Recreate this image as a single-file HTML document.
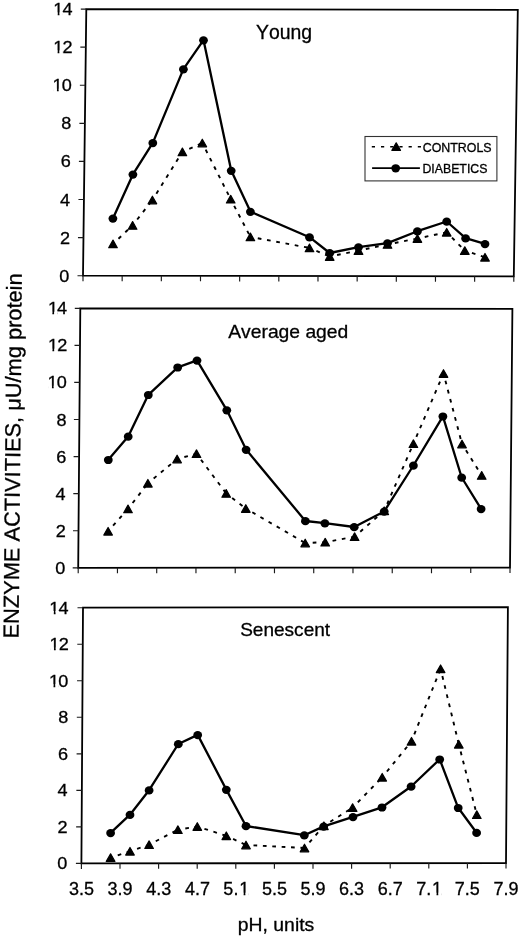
<!DOCTYPE html><html><head><meta charset="utf-8"><style>html,body{margin:0;padding:0;background:#fff;}svg{display:block;filter:grayscale(1);}text{font-family:"Liberation Sans", sans-serif;fill:#000;font-kerning:none;stroke:#000;stroke-width:0.3px;}</style></head><body>
<svg width="520" height="938" viewBox="0 0 520 938">
<rect width="520" height="938" fill="#fff"/>
<path d="M86.3 9.1 L517.8 9.8 L513.8 276.3 L83 275.7 Z" fill="none" stroke="#000" stroke-width="1.8"/>
<path d="M77.5 275.7H83M77.97 237.61H83.47M78.44 199.53H83.94M78.91 161.44H84.41M79.39 123.36H84.89M79.86 85.27H85.36M80.33 47.19H85.83M80.8 9.1H86.3M83 275.7V281.2M122.16 275.75V281.25M161.33 275.81V281.31M200.49 275.86V281.36M239.65 275.92V281.42M278.82 275.97V281.47M317.98 276.03V281.53M357.15 276.08V281.58M396.31 276.14V281.64M435.47 276.19V281.69M474.64 276.25V281.75M513.8 276.3V281.8" stroke="#1a1a1a" stroke-width="1.15" fill="none"/>
<text transform="translate(59.34 281.69) scale(1.0400 1)" font-size="17.4">0</text>
<text transform="translate(60.02 243.6) scale(1.0400 1)" font-size="17.4">2</text>
<text transform="translate(60.11 205.51) scale(1.0400 1)" font-size="17.4">4</text>
<text transform="translate(60.85 167.43) scale(1.0400 1)" font-size="17.4">6</text>
<text transform="translate(61.31 129.34) scale(1.0400 1)" font-size="17.4">8</text>
<text transform="translate(51.64 91.26) scale(1.0400 1)" font-size="17.4"><tspan dx="0.8">1</tspan><tspan dx="-0.8">0</tspan></text>
<text transform="translate(52.31 53.17) scale(1.0400 1)" font-size="17.4"><tspan dx="0.8">1</tspan><tspan dx="-0.8">2</tspan></text>
<text transform="translate(52.4 15.09) scale(1.0400 1)" font-size="17.4"><tspan dx="0.8">1</tspan><tspan dx="-0.8">4</tspan></text>
<text transform="translate(255.97 38.5) scale(0.9901 1)" font-size="19.62">Young</text>
<path d="M113 243.9L132.6 225.4M132.6 225.4L152.4 200M152.4 200L182.4 151.9M182.4 151.9L202.3 143M202.3 143L230.7 199.2M230.7 199.2L250.4 236.9M250.4 236.9L309.5 247.9M309.5 247.9L329.7 256.5M329.7 256.5L358.5 250.6M358.5 250.6L387.5 244.4M387.5 244.4L417.4 238.5M417.4 238.5L446.7 232.3M446.7 232.3L464.8 250.6M464.8 250.6L485 257.3" fill="none" stroke="#000" stroke-width="1.9" stroke-dasharray="3.7 5.7" stroke-dashoffset="1.9"/>
<polyline points="112.9,218.4 132.9,174.4 152.8,142.9 183.4,69.1 203.5,40.1 231.2,170.6 250.4,211.6 309.5,237.2 329.7,253 358.5,247.1 387.5,243.1 417.4,231.2 446.7,221.5 465.6,238.2 485,243.9" fill="none" stroke="#000" stroke-width="2.3" stroke-linejoin="round"/>
<path d="M113 240.1L117.3 247.7L108.7 247.7Z" fill="#000" stroke="#000" stroke-width="1.2" stroke-linejoin="round"/>
<path d="M132.6 221.6L136.9 229.2L128.3 229.2Z" fill="#000" stroke="#000" stroke-width="1.2" stroke-linejoin="round"/>
<path d="M152.4 196.2L156.7 203.8L148.1 203.8Z" fill="#000" stroke="#000" stroke-width="1.2" stroke-linejoin="round"/>
<path d="M182.4 148.1L186.7 155.7L178.1 155.7Z" fill="#000" stroke="#000" stroke-width="1.2" stroke-linejoin="round"/>
<path d="M202.3 139.2L206.6 146.8L198 146.8Z" fill="#000" stroke="#000" stroke-width="1.2" stroke-linejoin="round"/>
<path d="M230.7 195.4L235 203L226.4 203Z" fill="#000" stroke="#000" stroke-width="1.2" stroke-linejoin="round"/>
<path d="M250.4 233.1L254.7 240.7L246.1 240.7Z" fill="#000" stroke="#000" stroke-width="1.2" stroke-linejoin="round"/>
<path d="M309.5 244.1L313.8 251.7L305.2 251.7Z" fill="#000" stroke="#000" stroke-width="1.2" stroke-linejoin="round"/>
<path d="M329.7 252.7L334 260.3L325.4 260.3Z" fill="#000" stroke="#000" stroke-width="1.2" stroke-linejoin="round"/>
<path d="M358.5 246.8L362.8 254.4L354.2 254.4Z" fill="#000" stroke="#000" stroke-width="1.2" stroke-linejoin="round"/>
<path d="M387.5 240.6L391.8 248.2L383.2 248.2Z" fill="#000" stroke="#000" stroke-width="1.2" stroke-linejoin="round"/>
<path d="M417.4 234.7L421.7 242.3L413.1 242.3Z" fill="#000" stroke="#000" stroke-width="1.2" stroke-linejoin="round"/>
<path d="M446.7 228.5L451 236.1L442.4 236.1Z" fill="#000" stroke="#000" stroke-width="1.2" stroke-linejoin="round"/>
<path d="M464.8 246.8L469.1 254.4L460.5 254.4Z" fill="#000" stroke="#000" stroke-width="1.2" stroke-linejoin="round"/>
<path d="M485 253.5L489.3 261.1L480.7 261.1Z" fill="#000" stroke="#000" stroke-width="1.2" stroke-linejoin="round"/>
<ellipse cx="112.9" cy="218.6" rx="4.4" ry="4.1" fill="#000"/>
<ellipse cx="132.9" cy="174.6" rx="4.4" ry="4.1" fill="#000"/>
<ellipse cx="152.8" cy="143.1" rx="4.4" ry="4.1" fill="#000"/>
<ellipse cx="183.4" cy="69.3" rx="4.4" ry="4.1" fill="#000"/>
<ellipse cx="203.5" cy="40.3" rx="4.4" ry="4.1" fill="#000"/>
<ellipse cx="231.2" cy="170.8" rx="4.4" ry="4.1" fill="#000"/>
<ellipse cx="250.4" cy="211.8" rx="4.4" ry="4.1" fill="#000"/>
<ellipse cx="309.5" cy="237.4" rx="4.4" ry="4.1" fill="#000"/>
<ellipse cx="329.7" cy="253.2" rx="4.4" ry="4.1" fill="#000"/>
<ellipse cx="358.5" cy="247.3" rx="4.4" ry="4.1" fill="#000"/>
<ellipse cx="387.5" cy="243.3" rx="4.4" ry="4.1" fill="#000"/>
<ellipse cx="417.4" cy="231.4" rx="4.4" ry="4.1" fill="#000"/>
<ellipse cx="446.7" cy="221.7" rx="4.4" ry="4.1" fill="#000"/>
<ellipse cx="465.6" cy="238.4" rx="4.4" ry="4.1" fill="#000"/>
<ellipse cx="485" cy="244.1" rx="4.4" ry="4.1" fill="#000"/>
<path d="M80.3 308.3 L512.4 308.8 L510 567.6 L78.2 567.8 Z" fill="none" stroke="#000" stroke-width="1.8"/>
<path d="M72.7 567.8H78.2M73 530.73H78.5M73.3 493.66H78.8M73.6 456.59H79.1M73.9 419.51H79.4M74.2 382.44H79.7M74.5 345.37H80M74.8 308.3H80.3M78.2 567.8V573.3M117.45 567.78V573.28M156.71 567.76V573.26M195.96 567.75V573.25M235.22 567.73V573.23M274.47 567.71V573.21M313.73 567.69V573.19M352.98 567.67V573.17M392.24 567.65V573.15M431.49 567.64V573.14M470.75 567.62V573.12M510 567.6V573.1" stroke="#1a1a1a" stroke-width="1.15" fill="none"/>
<text transform="translate(55.19 573.79) scale(1.0400 1)" font-size="17.4">0</text>
<text transform="translate(55.7 536.71) scale(1.0400 1)" font-size="17.4">2</text>
<text transform="translate(55.62 499.64) scale(1.0400 1)" font-size="17.4">4</text>
<text transform="translate(56.18 462.57) scale(1.0400 1)" font-size="17.4">6</text>
<text transform="translate(56.47 425.5) scale(1.0400 1)" font-size="17.4">8</text>
<text transform="translate(46.63 388.43) scale(1.0400 1)" font-size="17.4"><tspan dx="0.8">1</tspan><tspan dx="-0.8">0</tspan></text>
<text transform="translate(47.13 351.36) scale(1.0400 1)" font-size="17.4"><tspan dx="0.8">1</tspan><tspan dx="-0.8">2</tspan></text>
<text transform="translate(47.05 314.29) scale(1.0400 1)" font-size="17.4"><tspan dx="0.8">1</tspan><tspan dx="-0.8">4</tspan></text>
<text transform="translate(228.26 337.5) scale(1.0051 1)" font-size="19.19">Average aged</text>
<path d="M108.1 531.3L128 508.9M128 508.9L147.9 483.3M147.9 483.3L177.1 459M177.1 459L196.5 453.7M196.5 453.7L226.2 493.4M226.2 493.4L245.8 508.5M245.8 508.5L305.2 543M305.2 543L325.2 542.2M325.2 542.2L354.6 536.7M354.6 536.7L384.2 510.8M384.2 510.8L413.4 443.7M413.4 443.7L443.5 373.5M443.5 373.5L462 444M462 444L481.7 475.4" fill="none" stroke="#000" stroke-width="1.9" stroke-dasharray="3.7 5.7" stroke-dashoffset="1.9"/>
<polyline points="108.3,459.8 128.2,436.5 148.3,394.8 177.7,367.3 197,360.4 226.8,410.1 246.1,449.6 305.4,521 324.9,523.2 354.2,527 384.2,511.4 413.4,465.5 442.9,416.3 461.7,477.5 481.1,508.9" fill="none" stroke="#000" stroke-width="2.3" stroke-linejoin="round"/>
<path d="M108.1 527.5L112.4 535.1L103.8 535.1Z" fill="#000" stroke="#000" stroke-width="1.2" stroke-linejoin="round"/>
<path d="M128 505.1L132.3 512.7L123.7 512.7Z" fill="#000" stroke="#000" stroke-width="1.2" stroke-linejoin="round"/>
<path d="M147.9 479.5L152.2 487.1L143.6 487.1Z" fill="#000" stroke="#000" stroke-width="1.2" stroke-linejoin="round"/>
<path d="M177.1 455.2L181.4 462.8L172.8 462.8Z" fill="#000" stroke="#000" stroke-width="1.2" stroke-linejoin="round"/>
<path d="M196.5 449.9L200.8 457.5L192.2 457.5Z" fill="#000" stroke="#000" stroke-width="1.2" stroke-linejoin="round"/>
<path d="M226.2 489.6L230.5 497.2L221.9 497.2Z" fill="#000" stroke="#000" stroke-width="1.2" stroke-linejoin="round"/>
<path d="M245.8 504.7L250.1 512.3L241.5 512.3Z" fill="#000" stroke="#000" stroke-width="1.2" stroke-linejoin="round"/>
<path d="M305.2 539.2L309.5 546.8L300.9 546.8Z" fill="#000" stroke="#000" stroke-width="1.2" stroke-linejoin="round"/>
<path d="M325.2 538.4L329.5 546L320.9 546Z" fill="#000" stroke="#000" stroke-width="1.2" stroke-linejoin="round"/>
<path d="M354.6 532.9L358.9 540.5L350.3 540.5Z" fill="#000" stroke="#000" stroke-width="1.2" stroke-linejoin="round"/>
<path d="M384.2 507L388.5 514.6L379.9 514.6Z" fill="#000" stroke="#000" stroke-width="1.2" stroke-linejoin="round"/>
<path d="M413.4 439.9L417.7 447.5L409.1 447.5Z" fill="#000" stroke="#000" stroke-width="1.2" stroke-linejoin="round"/>
<path d="M443.5 369.7L447.8 377.3L439.2 377.3Z" fill="#000" stroke="#000" stroke-width="1.2" stroke-linejoin="round"/>
<path d="M462 440.2L466.3 447.8L457.7 447.8Z" fill="#000" stroke="#000" stroke-width="1.2" stroke-linejoin="round"/>
<path d="M481.7 471.6L486 479.2L477.4 479.2Z" fill="#000" stroke="#000" stroke-width="1.2" stroke-linejoin="round"/>
<ellipse cx="108.3" cy="460" rx="4.4" ry="4.1" fill="#000"/>
<ellipse cx="128.2" cy="436.7" rx="4.4" ry="4.1" fill="#000"/>
<ellipse cx="148.3" cy="395" rx="4.4" ry="4.1" fill="#000"/>
<ellipse cx="177.7" cy="367.5" rx="4.4" ry="4.1" fill="#000"/>
<ellipse cx="197" cy="360.6" rx="4.4" ry="4.1" fill="#000"/>
<ellipse cx="226.8" cy="410.3" rx="4.4" ry="4.1" fill="#000"/>
<ellipse cx="246.1" cy="449.8" rx="4.4" ry="4.1" fill="#000"/>
<ellipse cx="305.4" cy="521.2" rx="4.4" ry="4.1" fill="#000"/>
<ellipse cx="324.9" cy="523.4" rx="4.4" ry="4.1" fill="#000"/>
<ellipse cx="354.2" cy="527.2" rx="4.4" ry="4.1" fill="#000"/>
<ellipse cx="384.2" cy="511.6" rx="4.4" ry="4.1" fill="#000"/>
<ellipse cx="413.4" cy="465.7" rx="4.4" ry="4.1" fill="#000"/>
<ellipse cx="442.9" cy="416.5" rx="4.4" ry="4.1" fill="#000"/>
<ellipse cx="461.7" cy="477.7" rx="4.4" ry="4.1" fill="#000"/>
<ellipse cx="481.1" cy="509.1" rx="4.4" ry="4.1" fill="#000"/>
<path d="M83 607.7 L507.9 607.1 L506 863 L81.4 863.4 Z" fill="none" stroke="#000" stroke-width="1.8"/>
<path d="M75.9 863.4H81.4M76.13 826.87H81.63M76.36 790.34H81.86M76.59 753.81H82.09M76.81 717.29H82.31M77.04 680.76H82.54M77.27 644.23H82.77M77.5 607.7H83M81.4 863.4V868.9M120 863.36V868.86M158.6 863.33V868.83M197.2 863.29V868.79M235.8 863.25V868.75M274.4 863.22V868.72M313 863.18V868.68M351.6 863.15V868.65M390.2 863.11V868.61M428.8 863.07V868.57M467.4 863.04V868.54M506 863V868.5" stroke="#1a1a1a" stroke-width="1.15" fill="none"/>
<text transform="translate(57.14 869.39) scale(1.0400 1)" font-size="17.4">0</text>
<text transform="translate(57.57 832.86) scale(1.0400 1)" font-size="17.4">2</text>
<text transform="translate(57.42 796.33) scale(1.0400 1)" font-size="17.4">4</text>
<text transform="translate(57.92 759.8) scale(1.0400 1)" font-size="17.4">6</text>
<text transform="translate(58.14 723.27) scale(1.0400 1)" font-size="17.4">8</text>
<text transform="translate(48.22 686.74) scale(1.0400 1)" font-size="17.4"><tspan dx="0.8">1</tspan><tspan dx="-0.8">0</tspan></text>
<text transform="translate(48.65 650.21) scale(1.0400 1)" font-size="17.4"><tspan dx="0.8">1</tspan><tspan dx="-0.8">2</tspan></text>
<text transform="translate(48.5 613.69) scale(1.0400 1)" font-size="17.4"><tspan dx="0.8">1</tspan><tspan dx="-0.8">4</tspan></text>
<text transform="translate(240.14 636.1) scale(1.0003 1)" font-size="19.04">Senescent</text>
<path d="M110.6 857.6L130 851.3M130 851.3L149.1 844.7M149.1 844.7L177.9 829.7M177.9 829.7L197.3 826.5M197.3 826.5L226.3 835.8M226.3 835.8L246 845M246 845L304.5 848M304.5 848L323.9 825.8M323.9 825.8L352.6 807.6M352.6 807.6L382.2 777.3M382.2 777.3L411.5 741.3M411.5 741.3L440.6 668.8M440.6 668.8L458.8 744.3M458.8 744.3L476.8 814.7" fill="none" stroke="#000" stroke-width="1.9" stroke-dasharray="3.7 5.7" stroke-dashoffset="1.9"/>
<polyline points="110.6,832.9 130,814.7 149.1,790.2 178.3,744 197.7,734.9 226.3,789.6 246,826 304.3,835.2 323.7,826.4 353,816.9 382,807.3 411.1,786.5 439.7,759.3 458.2,807.8 476.6,832.7" fill="none" stroke="#000" stroke-width="2.3" stroke-linejoin="round"/>
<path d="M110.6 853.8L114.9 861.4L106.3 861.4Z" fill="#000" stroke="#000" stroke-width="1.2" stroke-linejoin="round"/>
<path d="M130 847.5L134.3 855.1L125.7 855.1Z" fill="#000" stroke="#000" stroke-width="1.2" stroke-linejoin="round"/>
<path d="M149.1 840.9L153.4 848.5L144.8 848.5Z" fill="#000" stroke="#000" stroke-width="1.2" stroke-linejoin="round"/>
<path d="M177.9 825.9L182.2 833.5L173.6 833.5Z" fill="#000" stroke="#000" stroke-width="1.2" stroke-linejoin="round"/>
<path d="M197.3 822.7L201.6 830.3L193 830.3Z" fill="#000" stroke="#000" stroke-width="1.2" stroke-linejoin="round"/>
<path d="M226.3 832L230.6 839.6L222 839.6Z" fill="#000" stroke="#000" stroke-width="1.2" stroke-linejoin="round"/>
<path d="M246 841.2L250.3 848.8L241.7 848.8Z" fill="#000" stroke="#000" stroke-width="1.2" stroke-linejoin="round"/>
<path d="M304.5 844.2L308.8 851.8L300.2 851.8Z" fill="#000" stroke="#000" stroke-width="1.2" stroke-linejoin="round"/>
<path d="M323.9 822L328.2 829.6L319.6 829.6Z" fill="#000" stroke="#000" stroke-width="1.2" stroke-linejoin="round"/>
<path d="M352.6 803.8L356.9 811.4L348.3 811.4Z" fill="#000" stroke="#000" stroke-width="1.2" stroke-linejoin="round"/>
<path d="M382.2 773.5L386.5 781.1L377.9 781.1Z" fill="#000" stroke="#000" stroke-width="1.2" stroke-linejoin="round"/>
<path d="M411.5 737.5L415.8 745.1L407.2 745.1Z" fill="#000" stroke="#000" stroke-width="1.2" stroke-linejoin="round"/>
<path d="M440.6 665L444.9 672.6L436.3 672.6Z" fill="#000" stroke="#000" stroke-width="1.2" stroke-linejoin="round"/>
<path d="M458.8 740.5L463.1 748.1L454.5 748.1Z" fill="#000" stroke="#000" stroke-width="1.2" stroke-linejoin="round"/>
<path d="M476.8 810.9L481.1 818.5L472.5 818.5Z" fill="#000" stroke="#000" stroke-width="1.2" stroke-linejoin="round"/>
<ellipse cx="110.6" cy="833.1" rx="4.4" ry="4.1" fill="#000"/>
<ellipse cx="130" cy="814.9" rx="4.4" ry="4.1" fill="#000"/>
<ellipse cx="149.1" cy="790.4" rx="4.4" ry="4.1" fill="#000"/>
<ellipse cx="178.3" cy="744.2" rx="4.4" ry="4.1" fill="#000"/>
<ellipse cx="197.7" cy="735.1" rx="4.4" ry="4.1" fill="#000"/>
<ellipse cx="226.3" cy="789.8" rx="4.4" ry="4.1" fill="#000"/>
<ellipse cx="246" cy="826.2" rx="4.4" ry="4.1" fill="#000"/>
<ellipse cx="304.3" cy="835.4" rx="4.4" ry="4.1" fill="#000"/>
<ellipse cx="323.7" cy="826.6" rx="4.4" ry="4.1" fill="#000"/>
<ellipse cx="353" cy="817.1" rx="4.4" ry="4.1" fill="#000"/>
<ellipse cx="382" cy="807.5" rx="4.4" ry="4.1" fill="#000"/>
<ellipse cx="411.1" cy="786.7" rx="4.4" ry="4.1" fill="#000"/>
<ellipse cx="439.7" cy="759.5" rx="4.4" ry="4.1" fill="#000"/>
<ellipse cx="458.2" cy="808" rx="4.4" ry="4.1" fill="#000"/>
<ellipse cx="476.6" cy="832.9" rx="4.4" ry="4.1" fill="#000"/>
<text transform="translate(68.92 895.4) scale(1.0000 1)" font-size="18">3.5</text>
<text transform="translate(107.57 895.4) scale(1.0000 1)" font-size="18">3.9</text>
<text transform="translate(146.28 895.4) scale(1.0000 1)" font-size="18">4.3</text>
<text transform="translate(184.93 895.4) scale(1.0000 1)" font-size="18">4.7</text>
<text transform="translate(223.37 895.4) scale(1.0000 1)" font-size="18">5.<tspan dx="0.8">1</tspan></text>
<text transform="translate(261.91 895.4) scale(1.0000 1)" font-size="18">5.5</text>
<text transform="translate(300.55 895.4) scale(1.0000 1)" font-size="18">5.9</text>
<text transform="translate(339.03 895.4) scale(1.0000 1)" font-size="18">6.3</text>
<text transform="translate(377.68 895.4) scale(1.0000 1)" font-size="18">6.7</text>
<text transform="translate(416.27 895.4) scale(1.0000 1)" font-size="18">7.<tspan dx="0.8">1</tspan></text>
<text transform="translate(454.81 895.4) scale(1.0000 1)" font-size="18">7.5</text>
<text transform="translate(493.45 895.4) scale(1.0000 1)" font-size="18">7.9</text>
<path d="M53.14 88.66H56.95V92.66H53.14ZM58.69 88.66H62.18V92.66H58.69ZM53.81 50.57H57.62V54.57H53.81ZM59.36 50.57H62.85V54.57H59.36ZM53.91 12.49H57.71V16.49H53.91ZM59.45 12.49H62.94V16.49H59.45ZM48.13 385.83H51.94V389.83H48.13ZM53.68 385.83H57.17V389.83H53.68ZM48.64 348.76H52.44V352.76H48.64ZM54.18 348.76H57.67V352.76H54.18ZM48.56 311.69H52.36V315.69H48.56ZM54.1 311.69H57.59V315.69H54.1ZM49.72 684.14H53.53V688.14H49.72ZM55.27 684.14H58.76V688.14H55.27ZM50.16 647.61H53.97V651.61H50.16ZM55.71 647.61H59.2V651.61H55.71ZM50.01 611.09H53.81V615.09H50.01ZM55.55 611.09H59.04V615.09H55.55ZM239.85 892.76H243.64V896.8H239.85ZM245.37 892.76H248.84V896.8H245.37ZM432.75 892.76H436.53V896.8H432.75ZM438.27 892.76H441.74V896.8H438.27Z" fill="#fff"/>
<text transform="translate(237.75 931.3) scale(1.0426 1)" font-size="18.6">pH, units</text>
<rect x="365" y="136.5" width="131.9" height="44.4" fill="#fff" stroke="#333" stroke-width="1.1"/>
<path d="M371.8 146.8H421" stroke="#000" stroke-width="1.6" stroke-dasharray="3.2 6"/>
<path d="M396.2 142.8L400.5 150.4L391.9 150.4Z" fill="#000" stroke="#000" stroke-width="1.2" stroke-linejoin="round"/>
<path d="M372.1 168.2H419.9" stroke="#000" stroke-width="1.8"/>
<ellipse cx="395.7" cy="168.3" rx="4.35" ry="4.15" fill="#000"/>
<text transform="translate(422.77 151.5) scale(1.0000 1)" font-size="12.4">CONTROLS</text>
<text transform="translate(422.39 172.8) scale(0.9942 1)" font-size="12.4">DIABETICS</text>
<text transform="translate(18.6 638.49) rotate(-89.500)" font-size="21.8">ENZYME ACTIVITIES, μU/mg protein</text>
</svg></body></html>
